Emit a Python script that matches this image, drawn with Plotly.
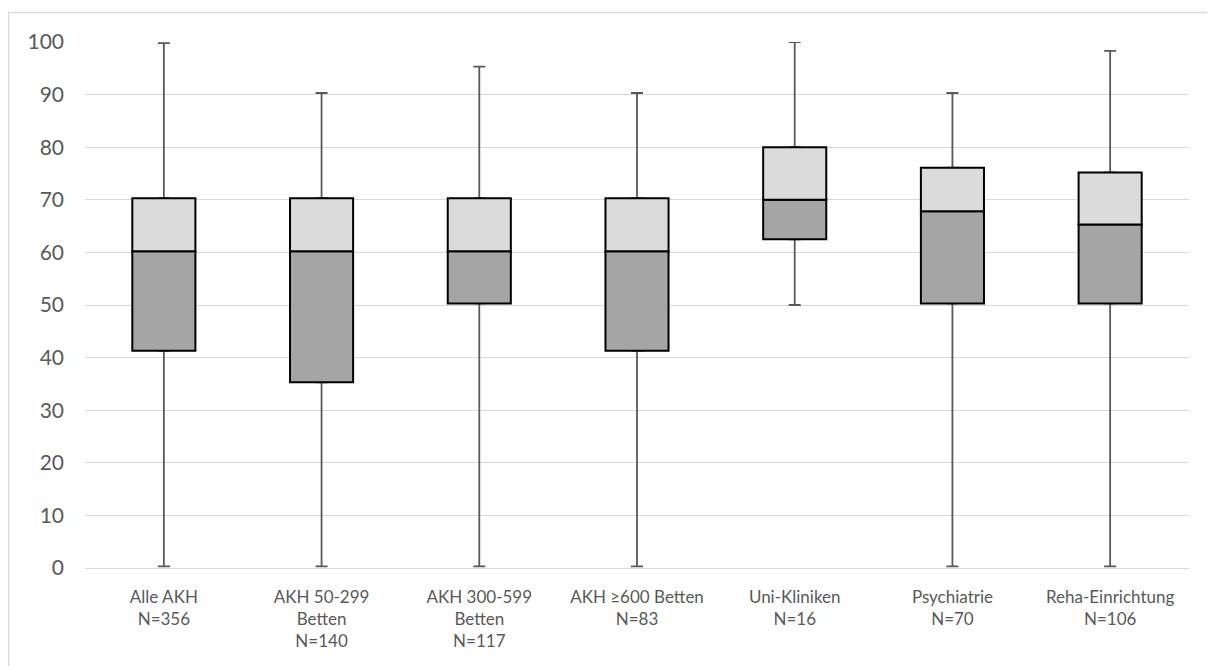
import plotly.graph_objects as go

categories = ["Alle AKH<br>N=356", "AKH 50-299<br>Betten<br>N=140", "AKH 300-599<br>Betten<br>N=117",
              "AKH ≥600 Betten<br>N=83", "Uni-Kliniken<br>N=16", "Psychiatrie<br>N=70",
              "Reha-Einrichtung<br>N=106"]
minimum = [0.3, 0.3, 0.3, 0.3, 50.0, 0.3, 0.3]
q1 = [41.3, 35.3, 50.3, 41.3, 62.5, 50.3, 50.3]
median = [60.2, 60.2, 60.2, 60.2, 70.0, 67.8, 65.3]
q3 = [70.3, 70.3, 70.3, 70.3, 80.0, 76.1, 75.2]
maximum = [99.8, 90.3, 95.3, 90.3, 100.0, 90.3, 98.3]

WHISK = "#595959"
DARK = "#A5A5A5"
LIGHT = "#DBDBDB"
W = 0.4

fig = go.Figure()

# lower whisker: invisible bar up to Q1, error bar down to minimum
fig.add_trace(go.Bar(
    x=categories, y=q1, width=W,
    marker=dict(color="rgba(0,0,0,0)", line=dict(width=0)),
    error_y=dict(type="data", symmetric=False, array=[0] * len(q1),
                 arrayminus=[a - b for a, b in zip(q1, minimum)],
                 color=WHISK, thickness=1.8, width=6),
    hoverinfo="skip", showlegend=False))

# upper whisker: invisible bar up to Q3, error bar up to maximum
fig.add_trace(go.Bar(
    x=categories, y=q3, width=W,
    marker=dict(color="rgba(0,0,0,0)", line=dict(width=0)),
    error_y=dict(type="data", symmetric=False,
                 array=[a - b for a, b in zip(maximum, q3)],
                 arrayminus=[0] * len(q3),
                 color=WHISK, thickness=1.8, width=6),
    hoverinfo="skip", showlegend=False))

# lower box Q1 -> median
fig.add_trace(go.Bar(
    x=categories, y=[m - a for m, a in zip(median, q1)], base=q1, width=W,
    marker=dict(color=DARK, line=dict(color="#000000", width=2)),
    showlegend=False))

# upper box median -> Q3
fig.add_trace(go.Bar(
    x=categories, y=[a - m for a, m in zip(q3, median)], base=median, width=W,
    marker=dict(color=LIGHT, line=dict(color="#000000", width=2)),
    showlegend=False))

fig.update_layout(
    width=1207, height=658,
    margin=dict(l=77, r=26, t=34, b=98),
    barmode="overlay",
    plot_bgcolor="white", paper_bgcolor="white",
    font=dict(family="Lato, Liberation Sans, sans-serif", color="#595959"),
    shapes=[dict(type="rect", xref="paper", yref="paper",
                 x0=(0.5 - 77) / 1104, x1=1.2, y0=-0.5, y1=1 + (34 - 4.5) / 526,
                 line=dict(color="#D9D9D9", width=1.3), fillcolor="rgba(0,0,0,0)",
                 layer="below")],
)
fig.update_yaxes(range=[0, 100], dtick=10, tick0=0, showgrid=True, gridcolor="#D9D9D9",
                 gridwidth=1.3, zeroline=False, showline=False, ticks="",
                 ticklabelstandoff=20, tickfont=dict(size=21, color="#595959"))
fig.update_xaxes(showgrid=False, showline=True, linecolor="#D9D9D9", linewidth=1.3,
                 ticks="", ticklabelstandoff=13,
                 tickfont=dict(size=17, color="#595959"))

fig.write_html("out.html")
